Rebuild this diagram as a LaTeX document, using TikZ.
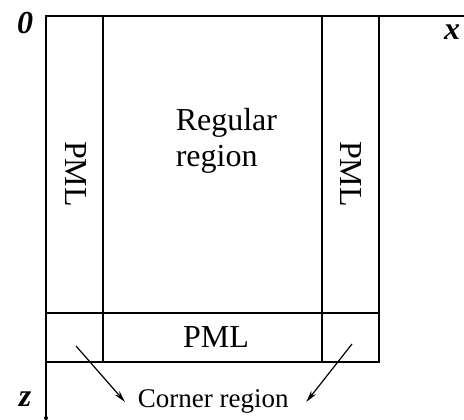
\documentclass[tikz,border=0pt]{standalone}
\usepackage{fontspec}
\setmainfont{Liberation Serif}
\usetikzlibrary{arrows.meta,calc,positioning}

\begin{document}
\begin{tikzpicture} [x=1pt,y=-1pt,line width=1.6pt,
	big_text/.style={font=\fontsize{32}{36}\selectfont,inner sep=0pt},
	axis_text/.style={font=\fontsize{32}{36}\selectfont\bfseries\itshape,inner sep=0pt},
	pointer/.style={line width=1.2pt,-{Stealth[length=12pt,width=6pt]}}]
	
	\useasboundingbox (0,0) rectangle (464,420);
	
	\begin{scope}
	
	\coordinate (O) at (46,16);
	
	\coordinate (X_end) at (464,16);
	
	\coordinate (Z_end) at (46,418);
	
	\coordinate (top_inner_L) at (103,16);
	
	\coordinate (bottom_inner_L) at (103,362);
	
	\coordinate (top_inner_R) at (322,16);
	
	\coordinate (bottom_inner_R) at (322,362);
	
	\coordinate (top_outer_R) at (379,16);
	
	\coordinate (bottom_outer_R) at (379,362);
	
	\coordinate (strip_L) at (46,313);
	
	\coordinate (strip_R) at (379,313);
	
	
	\draw (X_end) -- (O) -- (Z_end);
	
	\fill (Z_end) circle (2pt);
	
	\draw (top_outer_R) -- (bottom_outer_R) -- (bottom_outer_R -| O);
	
	\draw (top_inner_L) -- (bottom_inner_L);
	
	\draw (top_inner_R) -- (bottom_inner_R);
	
	\draw (strip_L) -- (strip_R);
	
	\end{scope}
	
	
	\node (origin) [axis_text] at (25,23) {0};
	
	\node (x_label) [axis_text] at (452,32) {x};
	
	\node (z_label) [axis_text] at (25,399) {z};
	
	
	\node (PML_L) [big_text,rotate=-90] at (76,174) {PML};
	
	\node (PML_R) [big_text,rotate=-90] at (351,174) {PML};
	
	\node (PML_B) [big_text] at (216,337.5) {PML};
	
	\node (regular) [big_text,align=left,anchor=base west] at (175,167) {Regular\\region};
	
	\node (corner) [font=\fontsize{27}{30}\selectfont,inner sep=0pt,anchor=base west] at (137,407) {Corner region};
	
	
	\coordinate (corner_BL) at (76,346);
	
	\coordinate (corner_BR) at (352,344);
	
	\draw [pointer] (corner_BL) to ($(corner.west) + (-12,1)$);
	
	\draw [pointer] (corner_BR) to ($(corner.east) + (17,1)$);
	
\end{tikzpicture}
\end{document}
